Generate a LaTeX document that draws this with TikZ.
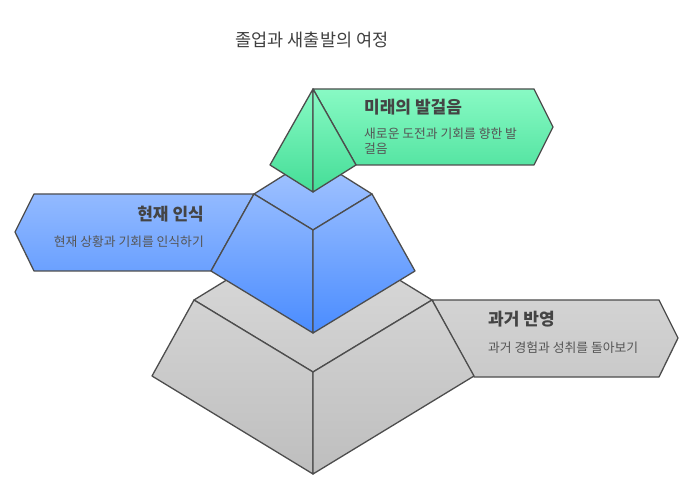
\documentclass[tikz,border=0pt]{standalone}
\usepackage{fontspec}
\setmainfont{Noto Sans CJK KR}
\definecolor{edgec}{HTML}{4D4D4D}
\definecolor{gtop}{HTML}{88FAC4}
\definecolor{gbot}{HTML}{44DD97}
\definecolor{btop}{HTML}{A6C6FF}
\definecolor{bbot}{HTML}{4A8CFF}
\definecolor{ytop}{HTML}{DCDCDC}
\definecolor{ybot}{HTML}{BEBEBE}
\definecolor{titlec}{HTML}{404040}
\definecolor{headc}{HTML}{444444}
\definecolor{descc}{HTML}{555555}
\newcommand\shpoly[5]{%
  \begin{scope}\clip #5 -- cycle;
  \shade[top color=#1,bottom color=#2] (0,#3) rectangle (699,#4);\end{scope}
  \draw[edge] #5 -- cycle;}
\begin{document}
\begin{tikzpicture}[x=1pt,y=-1pt,line join=round,
  edge/.style={draw=edgec,line width=1.3pt},
  titletext/.style={inner sep=0pt,text=titlec,font=\fontsize{17.5}{20}\selectfont},
  headtext/.style={inner sep=0pt,text=headc,font=\fontsize{17}{20}\selectfont\bfseries},
  desctext/.style={inner sep=0pt,text=descc,font=\fontsize{12.8}{15}\selectfont,align=left}]
\useasboundingbox (0,0) rectangle (699,494);
\fill[white] (0,0) rectangle (699,494);
% gray (bottom) level
\shpoly{ytop}{ybot}{227}{474}{(432,300) -- (659,300) -- (678,338) -- (659,377) -- (474,377)}
\shpoly{ytop}{ybot}{227}{474}{(194,300) -- (313,227) -- (432,300) -- (313,372)}
\shpoly{ytop}{ybot}{227}{474}{(194,300) -- (313,372) -- (313,474) -- (152,376)}
\shpoly{ytop}{ybot}{227}{474}{(432,300) -- (474,376) -- (313,474) -- (313,372)}
% blue (middle) level
\shpoly{btop}{bbot}{157}{333}{(254,194) -- (34,194) -- (15,232) -- (34,271) -- (211,271)}
\shpoly{btop}{bbot}{157}{333}{(254,194) -- (313,157) -- (372,194) -- (313,230)}
\shpoly{btop}{bbot}{157}{333}{(254,194) -- (313,230) -- (313,333) -- (211,271)}
\shpoly{btop}{bbot}{157}{333}{(372,194) -- (415,271) -- (313,333) -- (313,230)}
% green (top) level
\shpoly{gtop}{gbot}{89}{192}{(313,89) -- (534,89) -- (553,127) -- (534,165) -- (356,165)}
\shpoly{gtop}{gbot}{89}{192}{(313,89) -- (313,192) -- (270,165)}
\shpoly{gtop}{gbot}{89}{192}{(313,89) -- (356,165) -- (313,192)}
% texts
\node[titletext] (title) at (312,40) {졸업과 새출발의 여정};
\node[headtext,anchor=west] (h1) at (364,107) {미래의 발걸음};
\node[desctext,anchor=west] (d1) at (364,141) {새로운 도전과 기회를 향한 발\\걸음};
\node[headtext,anchor=east] (h2) at (204,214) {현재 인식};
\node[desctext,anchor=east] (d2) at (204,241.5) {현재 상황과 기회를 인식하기};
\node[headtext,anchor=west] (h3) at (488,319.5) {과거 반영};
\node[desctext,anchor=west] (d3) at (488,347.5) {과거 경험과 성취를 돌아보기};
\end{tikzpicture}
\end{document}
